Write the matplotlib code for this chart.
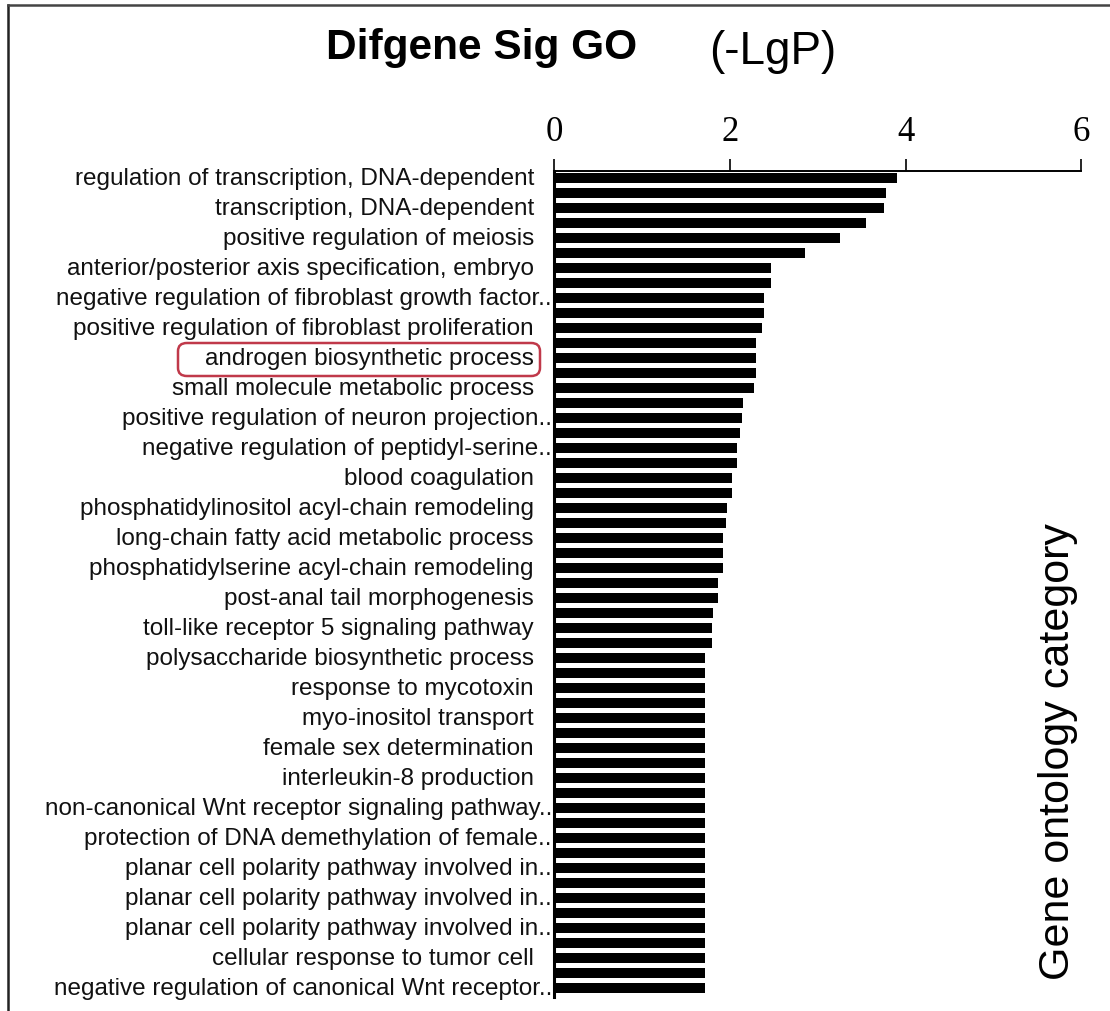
import numpy as np
import matplotlib
matplotlib.use("Agg")
import matplotlib.pyplot as plt
from matplotlib import font_manager
from matplotlib.patches import FancyBboxPatch
from matplotlib.lines import Line2D

# ---------------- data ----------------
title_main = "Difgene Sig GO"
title_unit = "(-LgP)"
ylabel = "Gene ontology category"

# -LgP values of the 55 bars (top to bottom)
bar_values = [3.90, 3.78, 3.75, 3.55, 3.25, 2.86, 2.47, 2.47, 2.39, 2.39,
              2.37, 2.30, 2.30, 2.30, 2.27, 2.15, 2.14, 2.12, 2.08, 2.08,
              2.03, 2.02, 1.97, 1.96, 1.92, 1.92, 1.92, 1.87, 1.87, 1.81,
              1.80, 1.80, 1.72, 1.72, 1.72, 1.72, 1.72, 1.72, 1.72, 1.72,
              1.72, 1.72, 1.72, 1.72, 1.72, 1.72, 1.72, 1.72, 1.72, 1.72,
              1.72, 1.72, 1.72, 1.72, 1.72]

category_labels = [
    "regulation of transcription, DNA-dependent",
    "transcription, DNA-dependent",
    "positive regulation of meiosis",
    "anterior/posterior axis specification, embryo",
    "negative regulation of fibroblast growth factor..",
    "positive regulation of fibroblast proliferation",
    "androgen biosynthetic process",
    "small molecule metabolic process",
    "positive regulation of neuron projection..",
    "negative regulation of peptidyl-serine..",
    "blood coagulation",
    "phosphatidylinositol acyl-chain remodeling",
    "long-chain fatty acid metabolic process",
    "phosphatidylserine acyl-chain remodeling",
    "post-anal tail morphogenesis",
    "toll-like receptor 5 signaling pathway",
    "polysaccharide biosynthetic process",
    "response to mycotoxin",
    "myo-inositol transport",
    "female sex determination",
    "interleukin-8 production",
    "non-canonical Wnt receptor signaling pathway..",
    "protection of DNA demethylation of female..",
    "planar cell polarity pathway involved in..",
    "planar cell polarity pathway involved in..",
    "planar cell polarity pathway involved in..",
    "cellular response to tumor cell",
    "negative regulation of canonical Wnt receptor..",
]
highlight_label = "androgen biosynthetic process"

x_ticks = [0, 2, 4, 6]
x_ticklabels = ["0", "2", "4", "6"]


def has_font(name):
    try:
        font_manager.findfont(name, fallback_to_default=False)
        return True
    except Exception:
        return False


narrow = has_font("Liberation Sans Narrow")
sans = "Liberation Sans"
serif = "Liberation Serif"

# ---------------- figure ----------------
W, H = 1110, 1012
fig = plt.figure(figsize=(W / 100, H / 100), dpi=100)
fig.patch.set_facecolor("white")

x0_px, x6_px = 554, 1081.4
top_px, bot_px = 172.3, 998
ax = fig.add_axes([x0_px / W, 1 - bot_px / H, (x6_px - x0_px) / W, (bot_px - top_px) / H])

n = len(bar_values)
ypos = np.arange(n)
ax.barh(ypos, bar_values, height=0.66, color="black", edgecolor="none")
ax.set_xlim(0, 6)
ax.set_ylim(54.6, -0.45)

for s in ["right", "bottom"]:
    ax.spines[s].set_visible(False)
ax.spines["top"].set_linewidth(1.4)
ax.spines["left"].set_linewidth(2.2)

ax.xaxis.tick_top()
ax.set_xticks(x_ticks)
ax.set_xticklabels(x_ticklabels, fontfamily=serif, fontsize=25)
ax.tick_params(axis="x", direction="out", length=9, width=1.2, pad=8)
ax.set_yticks([])

# category labels, one for every second bar
lab_pos = np.linspace(0, n - 1, len(category_labels))
ytr = ax.get_yaxis_transform()
for lab, yp in zip(category_labels, lab_pos):
    xr = -0.004 if lab.endswith("..") else -0.038
    ax.text(xr, yp, lab, transform=ytr, ha="right", va="center",
            fontsize=17.5, fontfamily=sans, color="#111111")

# highlight box
box = FancyBboxPatch((178 / W, 1 - 377 / H), (540 - 178) / W, 33 / H,
                     boxstyle="round,pad=0,rounding_size=0.008",
                     transform=fig.transFigure, fill=False,
                     edgecolor="#c0394a", linewidth=1.8)
fig.patches.append(box)

# title
if narrow:
    fig.text(326 / W, 1 - 48 / H, title_main, fontfamily="Liberation Sans Narrow",
             fontweight="bold", fontsize=37, ha="left", va="center")
else:
    fig.text(326 / W, 1 - 48 / H, title_main, fontfamily=sans,
             fontweight="bold", fontsize=30.5, ha="left", va="center")
fig.text(709 / W, 1 - 52 / H, title_unit, fontfamily=sans, fontsize=33,
         ha="left", va="center")

# right-side axis title
fig.text(1058 / W, 1 - 752 / H, ylabel, fontfamily=sans, fontsize=31,
         rotation=90, ha="center", va="center")

# outer frame (left and top)
fig.lines.append(Line2D([8 / W, 8 / W], [0, 1 - 6 / H], transform=fig.transFigure,
                        color="#222222", linewidth=1.8))
fig.lines.append(Line2D([8 / W, 1], [1 - 6 / H, 1 - 6 / H], transform=fig.transFigure,
                        color="#444444", linewidth=1.8))

fig.savefig("out.png", dpi=100, facecolor="white")
